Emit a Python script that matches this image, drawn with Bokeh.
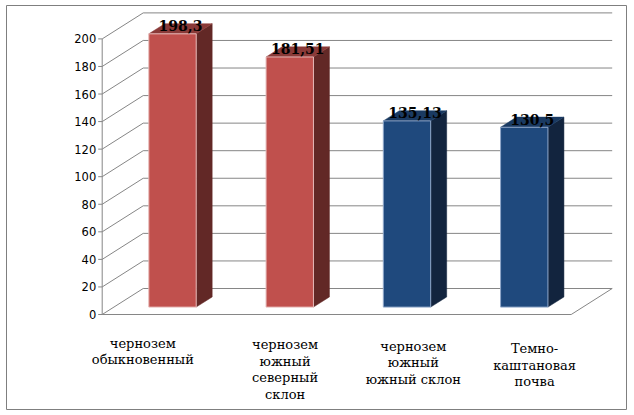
from bokeh.plotting import figure
from bokeh.models import Range1d, ColumnDataSource
from bokeh.embed import file_html
from bokeh.resources import INLINE
from bokeh.core.properties import value

# ---------------- data ----------------
CATEGORIES = [
    "чернозем\nобыкновенный",
    "чернозем\nюжный\nсеверный\nсклон",
    "чернозем\nюжный\nюжный склон",
    "Темно-\nкаштановая\nпочва",
]
VALUES = [198.3, 181.51, 135.13, 130.5]
Y_TICKS = [0, 20, 40, 60, 80, 100, 120, 140, 160, 180, 200]

# ---------------- styles ----------------
FRONT_COLORS = ["#C0504D", "#C0504D", "#1F497D", "#1F497D"]
SIDE_COLORS = ["#622826", "#622826", "#12243E", "#12243E"]
TOP_COLORS = ["#8A3A38", "#8A3A38", "#1A3A62", "#1A3A62"]
EDGE_COLORS = ["#E6B8B7", "#E6B8B7", "#8EA6C8", "#8EA6C8"]
LABEL_DX = [-18, 7, 18, 22]      # px shift of category labels
LABEL_DY = [21, 22.5, 24, 26.5]  # px below the front floor edge
GRID = "#868686"
SERIF = value("DejaVu Serif")

# ---------------- geometry (pixels) ----------------
W, H = 621, 405
AXIS_X_PX = 95.7        # front-left axis from left edge
ZERO_Y_PX = 96.0        # front floor edge from bottom edge
CAT_PX = 117.25         # width of one category on the front plane
VAL_PX = 1.378          # pixels per value unit
DEPTH_X_PX, DEPTH_Y_PX = 41.0, 26.0

DU = DEPTH_X_PX / CAT_PX
DV = DEPTH_Y_PX / VAL_PX
D0, D1 = 0.285, 0.675   # bar front/back depth
HW = 0.202              # bar half width (category units)
NCAT = len(CATEGORIES)

p = figure(
    width=W, height=H, output_backend="svg", toolbar_location=None,
    x_axis_type=None, y_axis_type=None, min_border=0,
    x_range=Range1d(-AXIS_X_PX / CAT_PX, (W - AXIS_X_PX) / CAT_PX),
    y_range=Range1d(-ZERO_Y_PX / VAL_PX, (H - ZERO_Y_PX) / VAL_PX),
    background_fill_color="white", border_fill_color="white",
)
p.margin = (5, 0, 0, 6)
p.outline_line_color = "#7F7F7F"
p.outline_line_width = 1

# left wall diagonals
p.segment(x0=[0] * len(Y_TICKS), y0=Y_TICKS,
          x1=[DU] * len(Y_TICKS), y1=[t + DV for t in Y_TICKS],
          line_color=GRID, line_width=1)
# back wall grid
p.segment(x0=[DU] * len(Y_TICKS), y0=[t + DV for t in Y_TICKS],
          x1=[NCAT + DU] * len(Y_TICKS), y1=[t + DV for t in Y_TICKS],
          line_color=GRID, line_width=1)
# floor front and right edges
p.line(x=[0, NCAT, NCAT + DU], y=[0, 0, DV], line_color=GRID, line_width=1)
# front axis line
p.line(x=[0, 0], y=[0, max(Y_TICKS)], line_color=GRID, line_width=1)
# tick marks
p.segment(x0=[0] * len(Y_TICKS), y0=Y_TICKS,
          x1=[-4 / CAT_PX] * len(Y_TICKS), y1=Y_TICKS,
          line_color=GRID, line_width=1)
# tick labels
p.text(x=[0] * len(Y_TICKS), y=Y_TICKS, text=[str(t) for t in Y_TICKS],
       x_offset=-6, text_align="right", text_baseline="middle",
       text_font=value("DejaVu Sans"), text_font_size="11.5px", text_color="#000000")

# bars
fl, fr, fb, ft = [], [], [], []
side_xs, side_ys, top_xs, top_ys = [], [], [], []
for i, v in enumerate(VALUES):
    L = i + 0.5 - HW + D0 * DU
    R = i + 0.5 + HW + D0 * DU
    b0, b1 = D0 * DV, D1 * DV
    dd = (D1 - D0) * DU
    fl.append(L); fr.append(R); fb.append(b0); ft.append(v + b0)
    side_xs.append([R, R + dd, R + dd, R])
    side_ys.append([b0, b1, v + b1, v + b0])
    top_xs.append([L, R, R + dd, L + dd])
    top_ys.append([v + b0, v + b0, v + b1, v + b1])

p.patches(xs=side_xs, ys=side_ys, fill_color=SIDE_COLORS, line_color=SIDE_COLORS, line_width=0.5)
p.patches(xs=top_xs, ys=top_ys, fill_color=TOP_COLORS, line_color=TOP_COLORS, line_width=0.5)
p.quad(left=fl, right=fr, bottom=fb, top=ft, fill_color=FRONT_COLORS,
       line_color=EDGE_COLORS, line_width=1)

# data labels
dmid = (D0 + D1) / 2
p.text(x=[i + 0.5 + dmid * DU for i in range(NCAT)],
       y=[v + dmid * DV for v in VALUES],
       text=[str(v).replace(".", ",") for v in VALUES],
       text_align="center", text_baseline="alphabetic", y_offset=-3,
       text_font=SERIF, text_font_style="bold",
       text_font_size="14px", text_color="#000000")

# category labels
src = ColumnDataSource(dict(x=[i + 0.5 for i in range(NCAT)], y=[0] * NCAT,
                            text=CATEGORIES, dx=LABEL_DX, dy=LABEL_DY))
p.text(x="x", y="y", text="text", x_offset="dx", y_offset="dy", source=src,
       text_align="center", text_baseline="top", text_line_height=1.1,
       text_font=SERIF, text_font_size="13px", text_color="#000000")

open("out.html", "w").write(file_html(p, INLINE))
